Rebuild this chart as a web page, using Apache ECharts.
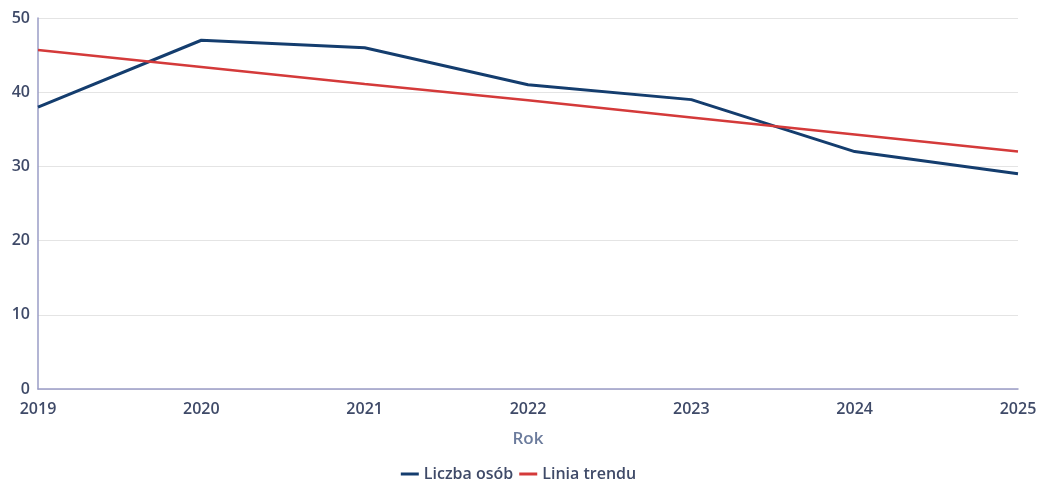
<!DOCTYPE html>
<html>
<head>
<meta charset="utf-8">
<script src="https://cdn.jsdelivr.net/npm/echarts@6/dist/echarts.min.js"></script>
<style>
  html, body { margin: 0; padding: 0; background: #fff; }
  #chart { width: 1037px; height: 481px; }
</style>
</head>
<body>
<div id="chart"></div>
<script>
// data
const years = ['2019', '2020', '2021', '2022', '2023', '2024', '2025'];
const liczbaOsob = [38, 47, 46, 41, 39, 32, 29];
const liniaTrendu = [45.7, 43.4, 41.1, 38.9, 36.6, 34.3, 32.0];

const labelColor = '#3f4a68';
const axisColor = '#9a9cc6';

const chart = echarts.init(document.getElementById('chart'));
chart.setOption({
    animation: false,
    textStyle: { fontFamily: 'Open Sans' },
    grid: { left: 38, right: 19, top: 18, bottom: 92, outerBoundsMode: 'none' },
    legend: {
        top: 461,
        itemWidth: 18,
        itemHeight: 3,
        itemGap: 6,
        icon: 'rect',
        textStyle: { color: labelColor, fontSize: 16, fontWeight: 600, fontFamily: 'Open Sans' },
        data: ['Liczba osób', 'Linia trendu']
    },
    xAxis: {
        type: 'category',
        data: years,
        boundaryGap: false,
        name: 'Rok',
        nameLocation: 'middle',
        nameGap: 42,
        nameTextStyle: { color: '#6b7b9c', fontSize: 17, fontWeight: 600 },
        axisLine: { lineStyle: { color: axisColor, width: 1.5 } },
        axisTick: { show: false },
        axisLabel: { color: labelColor, fontSize: 16, fontWeight: 600, margin: 12 }
    },
    yAxis: {
        type: 'value',
        min: 0,
        max: 50,
        interval: 10,
        axisLine: { show: true, lineStyle: { color: axisColor, width: 1.5 } },
        axisTick: { show: false },
        splitLine: { lineStyle: { color: '#e4e4e4' } },
        axisLabel: { color: labelColor, fontSize: 16, fontWeight: 600, margin: 8 }
    },
    series: [
        {
            name: 'Liczba osób',
            type: 'line',
            data: liczbaOsob,
            symbol: 'none',
            lineStyle: { color: '#143d6e', width: 3 },
            itemStyle: { color: '#143d6e' }
        },
        {
            name: 'Linia trendu',
            type: 'line',
            data: liniaTrendu,
            symbol: 'none',
            lineStyle: { color: '#d43a3a', width: 2.5 },
            itemStyle: { color: '#d43a3a' }
        }
    ]
});
</script>
</body>
</html>
